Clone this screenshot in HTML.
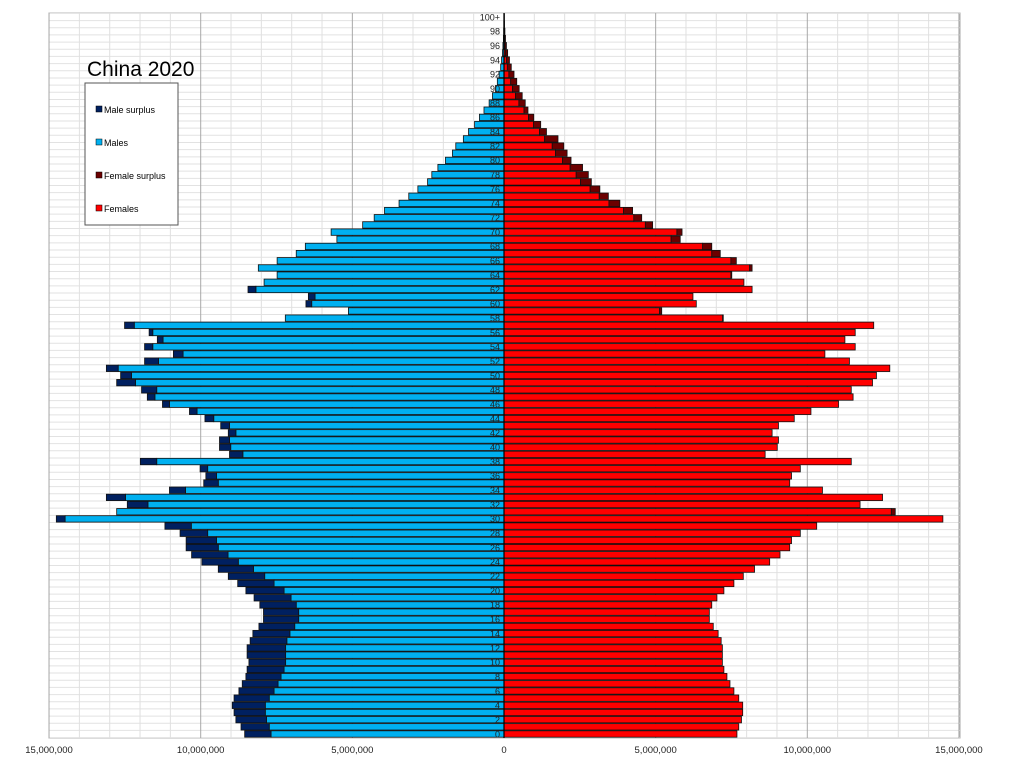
<!DOCTYPE html>
<html><head><meta charset="utf-8">
<style>
html,body{margin:0;padding:0;background:#fff;}
svg{display:block;font-family:"Liberation Sans",sans-serif;}
</style></head>
<body>
<svg id="chart" width="1024" height="767" viewBox="0 0 1024 767" xmlns="http://www.w3.org/2000/svg">
<rect x="0" y="0" width="1024" height="767" fill="#fff"/>
<g id="grid"></g>
<g id="bars"></g>
<g id="ages"></g>
<g id="xticks"></g>
<text x="87" y="76" font-size="21" fill="#000">China 2020</text>
<g>
<rect x="85" y="83" width="93" height="142" fill="#fff" stroke="#555" stroke-width="1"/>
<g><rect x="96" y="106" width="6" height="6" fill="#002060" stroke="#000" stroke-width="0.5"/><text x="104" y="113" font-size="9" fill="#000">Male surplus</text></g>
<g><rect x="96" y="139" width="6" height="6" fill="#00b0f0" stroke="#000" stroke-width="0.5"/><text x="104" y="146" font-size="9" fill="#000">Males</text></g>
<g><rect x="96" y="172" width="6" height="6" fill="#6b0000" stroke="#000" stroke-width="0.5"/><text x="104" y="179" font-size="9" fill="#000">Female surplus</text></g>
<g><rect x="96" y="205" width="6" height="6" fill="#ff0000" stroke="#000" stroke-width="0.5"/><text x="104" y="212" font-size="9" fill="#000">Females</text></g>
</g>
</svg>
<script>
// values in millions, index = age 0..100
const males = [8.55,8.67,8.84,8.9,8.96,8.9,8.74,8.63,8.51,8.47,8.41,8.47,8.47,8.37,8.28,8.08,7.93,7.93,8.05,8.24,
8.51,8.78,9.09,9.42,9.96,10.3,10.48,10.48,10.68,11.18,14.76,12.77,12.42,13.11,11.03,9.9,9.83,10.02,11.99,9.05,
9.38,9.38,9.09,9.34,9.86,10.37,11.26,11.76,11.95,12.77,12.64,13.11,11.85,10.9,11.85,11.43,11.7,12.51,7.21,5.13,
6.53,6.45,8.44,7.91,7.48,8.1,7.48,6.85,6.55,5.51,5.7,4.66,4.28,3.94,3.46,3.14,2.84,2.52,2.38,2.18,
1.93,1.7,1.59,1.34,1.17,0.97,0.81,0.66,0.49,0.38,0.28,0.22,0.16,0.11,0.08,0.05,0.035,0.02,0.012,0.007,0.005];
const females = [7.68,7.74,7.83,7.87,7.87,7.74,7.58,7.45,7.35,7.25,7.2,7.2,7.2,7.16,7.06,6.9,6.77,6.77,6.85,7.02,
7.25,7.58,7.89,8.26,8.76,9.1,9.42,9.48,9.77,10.31,14.47,12.9,11.74,12.48,10.5,9.42,9.48,9.77,11.45,8.61,
9.01,9.05,8.84,9.05,9.57,10.12,11.03,11.51,11.45,12.15,12.28,12.72,11.39,10.58,11.58,11.24,11.58,12.19,7.23,5.2,
6.34,6.23,8.18,7.91,7.51,8.18,7.66,7.13,6.85,5.81,5.87,4.9,4.54,4.24,3.82,3.44,3.16,2.88,2.78,2.59,
2.21,2.08,1.97,1.78,1.4,1.21,0.98,0.79,0.7,0.6,0.5,0.42,0.33,0.24,0.18,0.12,0.08,0.05,0.03,0.018,0.015];
const xTickValues = [-15,-10,-5,0,5,10,15];
const xTickLabels = ["15,000,000","10,000,000","5,000,000","0","5,000,000","10,000,000","15,000,000"];

const NS="http://www.w3.org/2000/svg";
const CX=504, PXM=30.33, Y0=734, PITCH=7.17, PL=49, PR=960, PT=13, PB=738;
const xs = v => CX + v*PXM;
const ys = a => Y0 - a*PITCH;
function mk(tag, attrs, parent){const e=document.createElementNS(NS,tag);for(const k in attrs)e.setAttribute(k,attrs[k]);parent.appendChild(e);return e;}

const grid=document.getElementById('grid');
mk('rect',{x:PL,y:PT,width:PR-PL,height:PB-PT,fill:'#fff',stroke:'#aaa','stroke-width':1},grid);
for(let a=0;a<=101;a++){const y=ys(a)+PITCH/2;mk('line',{x1:PL,x2:PR,y1:y,y2:y,stroke:'#e2e2e2','stroke-width':1},grid);}
for(let v=-15;v<=15;v++){const x=xs(v);mk('line',{x1:x,x2:x,y1:PT,y2:PB,stroke:(v%5===0)?'#a8a8a8':'#e0e0e0','stroke-width':1},grid);}

const bars=document.getElementById('bars');
for(let a=0;a<males.length;a++){
  const m=males[a], f=females[a], c=Math.min(m,f), yT=ys(a)-3.2, h=6.4;
  let r;
  r=mk('rect',{x:xs(-c),y:yT,width:c*PXM,height:h,fill:'#00b0f0',stroke:'#111','stroke-width':0.8},bars);
  
  
  if(m>f){
    r=mk('rect',{x:xs(-m),y:yT,width:(m-f)*PXM,height:h,fill:'#002060',stroke:'#111','stroke-width':0.8},bars);
    
    
  }
  r=mk('rect',{x:CX,y:yT,width:c*PXM,height:h,fill:'#ff0000',stroke:'#111','stroke-width':0.8},bars);
  
  
  if(f>m){
    r=mk('rect',{x:xs(m),y:yT,width:(f-m)*PXM,height:h,fill:'#6b0000',stroke:'#111','stroke-width':0.8},bars);
    
    
  }
}
mk('line',{x1:CX,x2:CX,y1:PT,y2:PB,stroke:'#000','stroke-width':1.2},bars);

const ages=document.getElementById('ages');
for(let a=0;a<=100;a+=2){
  const t=mk('text',{x:CX-4,y:ys(a)+3.3,'font-size':9,'text-anchor':'end',fill:'#222'},ages);
  t.textContent = a===100?'100+':String(a);
  
  
}
const xt=document.getElementById('xticks');
for(let i=0;i<xTickValues.length;i++){
  const t=mk('text',{x:xs(xTickValues[i]),y:753,'font-size':9.5,'text-anchor':'middle',fill:'#222'},xt);
  t.textContent=xTickLabels[i];
  
  
}
</script>
</body></html>
